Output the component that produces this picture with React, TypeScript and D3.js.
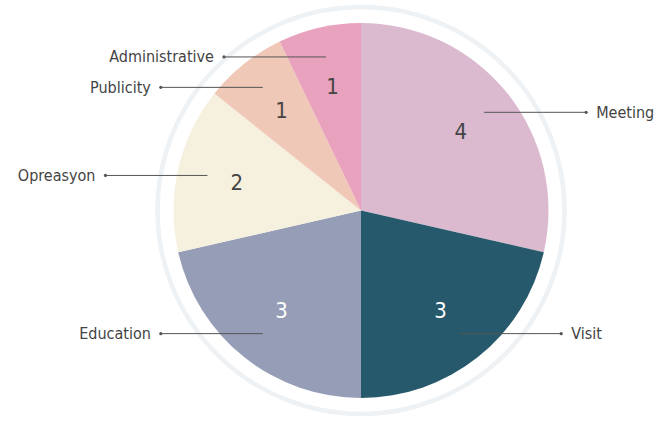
import React from "react";
import * as d3 from "d3";

const categories = ["Meeting", "Visit", "Education", "Opreasyon", "Publicity", "Administrative"];
const values = [4, 3, 3, 2, 1, 1];
const colors = ["#dbbad0", "#26596b", "#969db6", "#f6f1df", "#efc8b7", "#e9a2bd"];
const valueColors = ["#444444", "#ffffff", "#ffffff", "#444444", "#444444", "#444444"];

const W = 664;
const H = 424;
const cx = 361;
const cy = 210.5;
const R = 187.5;
const ringR = 203.5;
const font = "'Liberation Sans Narrow', 'DejaVu Sans Condensed', 'Roboto', sans-serif";

export default function App() {
  const data = categories.map((c, i) => ({ c, v: values[i], i }));
  const pie = d3.pie<any>().value((d) => d.v).sort(null);
  const arcs = pie(data);
  const arc = d3.arc<any>().innerRadius(0).outerRadius(R);
  const valArc = d3.arc<any>().innerRadius(R * 0.68).outerRadius(R * 0.68);
  const lineArc = d3.arc<any>().innerRadius(R * 0.84).outerRadius(R * 0.84);
  return (
    <svg width={W} height={H} style={{ position: "absolute", left: 0, top: 0 }}>
      <g transform={`translate(${cx},${cy})`}>
        <circle r={ringR} fill="none" stroke="#eef2f5" strokeWidth={4.5} />
        {arcs.map((a, i) => (
          <path key={i} d={arc(a) as string} fill={colors[i]} />
        ))}
        {arcs.map((a, i) => {
          const [vx, vy] = valArc.centroid(a);
          return (
            <text key={"v" + i} x={vx} y={vy} textAnchor="middle" dominantBaseline="central"
              fontFamily={font} fontSize={22} fill={valueColors[i]}>
              {values[i]}
            </text>
          );
        })}
        {arcs.map((a, i) => {
          const [lx, ly] = lineArc.centroid(a);
          const mid = (a.startAngle + a.endAngle) / 2;
          const right = mid < Math.PI;
          const ex = lx + (right ? 102 : -102);
          return (
            <g key={"l" + i}>
              <line x1={lx} y1={ly} x2={ex} y2={ly} stroke="#555" strokeWidth={1} />
              <circle cx={ex} cy={ly} r={1.6} fill="#555" />
              <text x={ex + (right ? 10 : -10)} y={ly} textAnchor={right ? "start" : "end"}
                dominantBaseline="central" fontFamily={font} fontSize={16} fill="#444">
                {categories[i]}
              </text>
            </g>
          );
        })}
      </g>
    </svg>
  );
}
